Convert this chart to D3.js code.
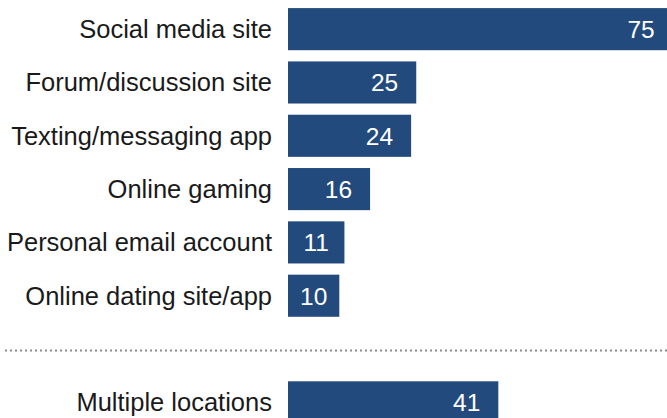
<!DOCTYPE html>
<html>
<head>
<meta charset="utf-8">
<script src="https://cdn.jsdelivr.net/npm/d3@7"></script>
<style>
  html, body { margin: 0; padding: 0; background: #fff; }
  svg { display: block; }
</style>
</head>
<body>
<svg id="chart" width="667" height="418"></svg>
<script>
// Where the activity took place (%)
const categories = [
  "Social media site",
  "Forum/discussion site",
  "Texting/messaging app",
  "Online gaming",
  "Personal email account",
  "Online dating site/app"
];
const values = [75, 25, 24, 16, 11, 10];

// Summary row shown below the divider
const summaryCategories = ["Multiple locations"];
const summaryValues = [41];

const W = 667, H = 418;
const barColor = "#234a7c";
const svg = d3.select("#chart");

// One slot per row plus an empty slot holding the divider
const slots = [...categories, "__divider__", ...summaryCategories];
const rows = [
  ...categories.map((c, i) => ({ label: c, value: values[i] })),
  ...summaryCategories.map((c, i) => ({ label: c, value: summaryValues[i] }))
];

const y = d3.scaleBand()
  .domain(slots)
  .range([2.5, 429])
  .paddingInner(0.21)
  .paddingOuter(0.105);

const x0 = 288;
const x = d3.scaleLinear().domain([0, 100]).range([x0, x0 + 513]);

const font = "'Liberation Sans', Arial, sans-serif";

// Category labels
svg.append("g")
  .selectAll("text")
  .data(rows)
  .join("text")
  .attr("x", 272)
  .attr("y", d => y(d.label) + y.bandwidth() / 2)
  .attr("dy", "0.35em")
  .attr("text-anchor", "end")
  .attr("font-family", font)
  .attr("font-size", 25.5)
  .attr("fill", "#1a1a1a")
  .text(d => d.label);

// Bars
svg.append("g")
  .selectAll("rect")
  .data(rows)
  .join("rect")
  .attr("x", x(0))
  .attr("y", d => y(d.label))
  .attr("width", d => x(d.value) - x(0))
  .attr("height", y.bandwidth())
  .attr("fill", barColor);

// Value labels inside bars
const vals = svg.append("g")
  .selectAll("text")
  .data(rows)
  .join("text")
  .attr("y", d => y(d.label) + y.bandwidth() / 2)
  .attr("dy", "0.36em")
  .attr("text-anchor", "end")
  .attr("font-family", font)
  .attr("font-size", 24.5)
  .attr("fill", "#ffffff")
  .text(d => d.value);

vals.each(function(d) {
  const w = this.getComputedTextLength();
  const end = x(d.value);
  const centered = (x(0) + end) / 2 + w / 2;
  d3.select(this).attr("x", Math.max(end - 18, centered));
});

// Dotted divider between the detail rows and the summary row
const dividerY = y("__divider__") + y.bandwidth() / 2 + 1.5;
svg.append("line")
  .attr("x1", 5)
  .attr("x2", W)
  .attr("y1", dividerY)
  .attr("y2", dividerY)
  .attr("stroke", "#8c8c8c")
  .attr("stroke-width", 2)
  .attr("stroke-dasharray", "2,3");
</script>
</body>
</html>
